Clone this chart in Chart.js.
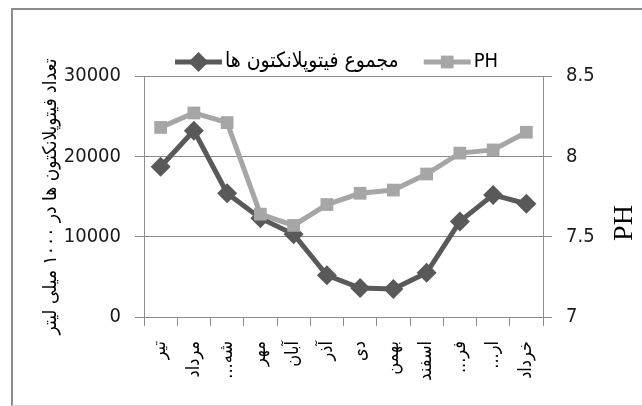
<!DOCTYPE html>
<html>
<head>
<meta charset="utf-8">
<script src="https://cdn.jsdelivr.net/npm/chart.js@4.4.0/dist/chart.umd.min.js"></script>
<style>
    html, body { margin: 0; padding: 0; background: #fff; }
    #wrap { position: relative; width: 642px; height: 406px; }
    #myChart { direction: rtl; }
    #frame {
        position: absolute; left: 11px; top: 8px; right: 0; bottom: 0;
        border-left: 2px solid #8c8c8c; border-top: 2px solid #8c8c8c;
        border-bottom: 1px solid #d9d9d9; pointer-events: none;
    }
</style>
</head>
<body>
<div id="wrap"><canvas id="myChart" width="642" height="406"></canvas><div id="frame"></div></div>
<script>
// data
const months = ['تیر', 'مرداد', 'شه...', 'مهر', 'آبان', 'آذر', 'دی', 'بهمن', 'اسفند', 'فر...', 'ار...', 'خرداد'],
    phyto = [18700, 23200, 15400, 12300, 10300, 5200, 3600, 3500, 5500, 11900, 15200, 14100],
    ph = [8.18, 8.27, 8.21, 7.64, 7.57, 7.70, 7.77, 7.79, 7.89, 8.02, 8.04, 8.15],
    leftTicks = [0, 10000, 20000, 30000],
    rightTicks = [7, 7.5, 8, 8.5],
    phytoLabel = 'مجموع فیتوپلانکتون ها',
    phLabel = 'PH',
    leftTitle = 'تعداد فیتوپلانکتون ها در ۱۰۰۰ میلی لیتر';

const dark = '#595959',
    light = '#a6a6a6',
    gridColor = '#8c8c8c',
    numFont = { family: "'DejaVu Sans Condensed', sans-serif", size: 20 },
    faFont = { family: "'DejaVu Sans Condensed', 'DejaVu Sans', sans-serif", size: 18 },
    titleFont = { family: "'DejaVu Sans Condensed', 'DejaVu Sans', sans-serif", size: 19 };

// legend (line + marker + text) and the PH title, drawn by hand
const extras = {
    id: 'extras',
    afterDraw(chart) {
        const ctx = chart.ctx;
        ctx.save();
        ctx.textBaseline = 'middle';
        ctx.textAlign = 'left';
        let x = 175;
        const y = 62;
        [[phytoLabel, dark, 'rectRot', 10, 21], [phLabel, light, 'rect', 9, 20]].forEach(([text, color, style, r, size]) => {
            ctx.strokeStyle = color;
            ctx.lineWidth = 5;
            ctx.beginPath();
            ctx.moveTo(x, y);
            ctx.lineTo(x + 47, y);
            ctx.stroke();
            ctx.fillStyle = color;
            Chart.helpers.drawPoint(ctx, { pointStyle: style, radius: r, rotation: 0, borderWidth: 0 }, x + 23.5, y);
            ctx.fillStyle = '#000';
            ctx.font = size + "px 'DejaVu Sans Condensed', 'DejaVu Sans', sans-serif";
            ctx.fillText(text, x + 50, y);
            x += 50 + ctx.measureText(text).width + 25;
        });

        // right axis title, reading bottom to top
        ctx.font = "28px 'Liberation Serif', serif";
        ctx.textAlign = 'center';
        ctx.translate(625, 223);
        ctx.rotate(-Math.PI / 2);
        ctx.fillText(phLabel, 0, 0);
        ctx.restore();
    }
};

const ctx = document.getElementById('myChart');
const myChart = new Chart(ctx, {
    type: 'line',
    data: {
        labels: months,
        datasets: [{
            label: phytoLabel,
            data: phyto,
            yAxisID: 'y',
            borderColor: dark,
            backgroundColor: dark,
            borderWidth: 5,
            pointStyle: 'rectRot',
            pointRadius: 10,
            pointBorderWidth: 0,
            tension: 0,
            clip: false,
            order: 2
        }, {
            label: phLabel,
            data: ph,
            yAxisID: 'y1',
            borderColor: light,
            backgroundColor: light,
            borderWidth: 5,
            pointStyle: 'rect',
            pointRadius: 9,
            pointBorderWidth: 0,
            tension: 0,
            clip: false,
            order: 1
        }]
    },
    options: {
        responsive: false,
        animation: false,
        layout: { padding: { top: 76, left: 0, right: 0, bottom: 0 } },
        plugins: { legend: { display: false }, tooltip: { enabled: false } },
        scales: {
            x: {
                offset: true,
                grid: { offset: true, drawOnChartArea: false, color: gridColor, tickLength: 9 },
                border: { color: gridColor },
                ticks: { minRotation: 90, maxRotation: 90, autoSkip: false, padding: 15, color: '#000', font: faFont },
                afterFit: s => { s.height = 89; }
            },
            y: {
                position: 'left',
                min: 0,
                max: 30000,
                afterBuildTicks: s => { s.ticks = leftTicks.map(v => ({ value: v })); },
                grid: { color: gridColor, tickLength: 9 },
                border: { color: gridColor },
                ticks: { padding: 14, color: '#1a1a1a', font: numFont, callback: v => String(v) },
                title: { display: true, text: leftTitle, color: '#000', font: titleFont, padding: { top: 40, bottom: 0 } },
                afterFit: s => { s.width = 144; }
            },
            y1: {
                position: 'right',
                min: 7,
                max: 8.5,
                afterBuildTicks: s => { s.ticks = rightTicks.map(v => ({ value: v })); },
                grid: { drawOnChartArea: false, color: gridColor, tickLength: 9 },
                border: { color: gridColor },
                ticks: { padding: 14, color: '#1a1a1a', font: numFont, callback: v => String(v) },
                afterFit: s => { s.width = 99; }
            }
        }
    },
    plugins: [extras]
});
</script>
</body>
</html>
